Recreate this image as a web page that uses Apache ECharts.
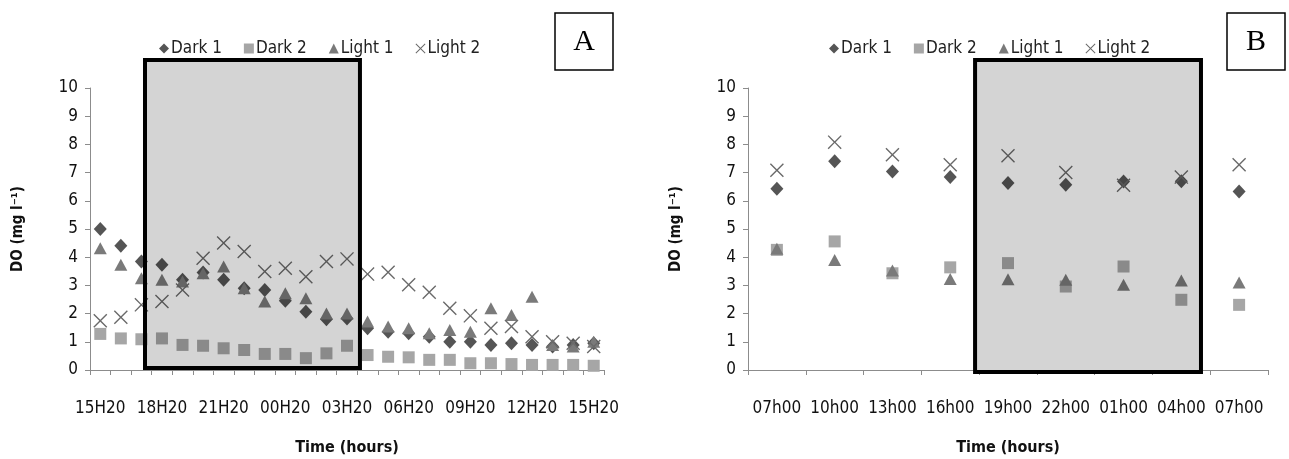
<!DOCTYPE html>
<html>
<head>
<meta charset="utf-8">
<script src="https://cdn.jsdelivr.net/npm/echarts@6/dist/echarts.min.js"></script>
<style>html,body{margin:0;padding:0;background:#fff}#c{width:1289px;height:459px}</style>
</head>
<body>
<div id="c"></div>
<script>
// ---- Data ----
var timesA = ['15H20','16H20','17H20','18H20','19H20','20H20','21H20','22H20','23H20','00H20','01H20','02H20','03H20','04H20','05H20','06H20','07H20','08H20','09H20','10H20','11H20','12H20','13H20','14H20','15H20'];
var dark1A  = [5.0,4.41,3.85,3.73,3.2,3.46,3.2,2.9,2.84,2.46,2.07,1.8,1.83,1.48,1.36,1.3,1.18,1.0,1.0,0.89,0.95,0.89,0.83,0.89,0.95];
var dark2A  = [1.28,1.12,1.09,1.12,0.89,0.86,0.77,0.71,0.57,0.57,0.42,0.59,0.86,0.53,0.47,0.45,0.36,0.36,0.24,0.24,0.21,0.18,0.18,0.18,0.15];
var light1A = [4.32,3.73,3.25,3.2,3.14,3.43,3.67,2.9,2.43,2.72,2.54,2.0,2.0,1.72,1.54,1.48,1.3,1.42,1.36,2.19,1.95,2.6,0.89,0.83,1.0];
var light2A = [1.75,1.87,2.31,2.43,2.84,3.96,4.5,4.2,3.49,3.61,3.31,3.85,3.94,3.4,3.47,3.02,2.76,2.19,1.92,1.48,1.54,1.18,1.0,0.95,0.83];

var timesB = ['07h00','10h00','13h00','16h00','19h00','22h00','01h00','04h00','07h00'];
var dark1B  = [6.43,7.4,7.04,6.84,6.63,6.57,6.68,6.69,6.33];
var dark2B  = [4.26,4.56,3.43,3.64,3.79,2.96,3.67,2.49,2.31];
var light1B = [4.3,3.9,3.53,3.23,3.22,3.2,3.02,3.17,3.1];
var light2B = [7.08,8.08,7.63,7.28,7.6,7.0,6.55,6.84,7.28];

var seriesNames = ['Dark 1','Dark 2','Light 1','Light 2'];
// shaded (dark period) boxes, in category units along each x axis
var darkSpanA = [2.675, 13.13];
var darkSpanB = [3.93, 7.84];

// ---- Style ----
var FONT = "'Liberation Sans Narrow','DejaVu Sans Condensed','Liberation Sans',sans-serif";
var crossPath = 'path://M0,1.4L1.4,0L10,8.6L18.6,0L20,1.4L11.4,10L20,18.6L18.6,20L10,11.4L1.4,20L0,18.6L8.6,10Z';
var styles = [
  {symbol:'diamond', size:[13,14], color:'#555555'},
  {symbol:'rect', size:12, color:'#a6a6a6'},
  {symbol:'triangle', size:[13,12], color:'#7a7a7a'},
  {symbol:crossPath, size:14, color:'#6a6a6a'}
];
var grids = [
  {left:90, top:88, width:514, height:282},
  {left:748, top:88, width:520, height:282}
];

function mkSeries(gi, arrs){
  return arrs.map(function(d,k){
    return {
      name: seriesNames[k], type:'scatter', xAxisIndex:gi, yAxisIndex:gi,
      data: d, symbol: styles[k].symbol, symbolSize: styles[k].size,
      itemStyle:{color: styles[k].color, opacity:1}, z: 2 + (k===3?1:0),
      emphasis:{disabled:true}, silent:true
    };
  });
}

function xAxis(gi, cats){
  return {
    type:'category', gridIndex:gi, data:cats, boundaryGap:true,
    axisLine:{lineStyle:{color:'#8c8c8c', width:1}},
    axisTick:{show:true, interval:0, length:5, lineStyle:{color:'#8c8c8c'}},
    axisLabel:{interval: gi===0?2:0, color:'#111', fontFamily:FONT, fontSize:17, margin:30},
    name:'Time (hours)', nameLocation:'middle', nameGap:70,
    nameTextStyle:{fontFamily:FONT, fontSize:16, fontWeight:'bold', color:'#111'},
    splitLine:{show:false}
  };
}
function yAxis(gi){
  return {
    type:'value', gridIndex:gi, min:0, max:10, interval:1,
    axisLine:{show:true, lineStyle:{color:'#8c8c8c', width:1}},
    axisTick:{show:true, length:5, lineStyle:{color:'#8c8c8c'}},
    axisLabel:{color:'#111', fontFamily:FONT, fontSize:17, margin:12},
    splitLine:{show:false},
    name:'DO (mg l⁻¹)', nameLocation:'middle', nameGap:64, nameRotate:90,
    nameTextStyle:{fontFamily:FONT, fontSize:15, fontWeight:'bold', color:'#111'}
  };
}
function legend(left){
  return {
    left:left, top:35, itemWidth:10, itemHeight:10, itemGap:22,
    textStyle:{fontFamily:FONT, fontSize:17, color:'#222', padding:[0,0,0,-3]},
    data: seriesNames.map(function(n,k){return {name:n, itemStyle:{color:styles[k].color}};}),
    selectedMode:false
  };
}

function darkBox(gi, span, n, bottom){
  var g = grids[gi], bw = g.width / n;
  var x0 = g.left + span[0]*bw, x1 = g.left + span[1]*bw;
  return {
    type:'rect', z:100, silent:true,
    shape:{x:x0, y:60, width:x1-x0, height:bottom-60},
    style:{fill:'rgba(0,0,0,0.17)', stroke:'#000', lineWidth:4}
  };
}
function labelBox(x, txt){
  return {
    type:'group', z:100, children:[
      {type:'rect', shape:{x:x, y:13, width:58, height:57}, style:{fill:'#fff', stroke:'#000', lineWidth:1.5}},
      {type:'text', x:x+29, y:42, style:{text:txt, font:"30px 'Liberation Serif','DejaVu Serif',serif", fill:'#000', align:'center', verticalAlign:'middle'}}
    ]
  };
}

var chart = echarts.init(document.getElementById('c'), null, {renderer:'canvas'});
chart.setOption({
  animation:false,
  backgroundColor:'#fff',
  grid: grids.map(function(g){return Object.assign({containLabel:false, outerBoundsMode:'none'}, g);}),
  xAxis:[xAxis(0,timesA), xAxis(1,timesB)],
  yAxis:[yAxis(0), yAxis(1)],
  legend:[legend(154), legend(824)],
  series: mkSeries(0,[dark1A,dark2A,light1A,light2A]).concat(mkSeries(1,[dark1B,dark2B,light1B,light2B])),
  graphic:[
    darkBox(0, darkSpanA, timesA.length, 368),
    darkBox(1, darkSpanB, timesB.length, 372),
    labelBox(555,'A'),
    labelBox(1227,'B')
  ]
});
</script>
</body>
</html>
